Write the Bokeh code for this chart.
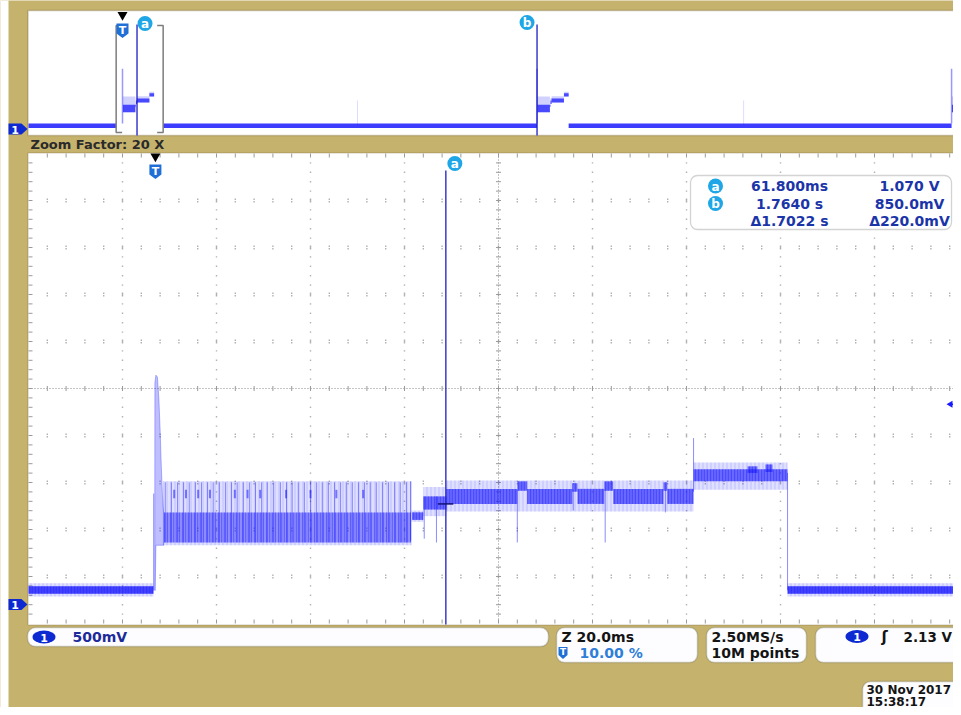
import numpy as np
from bokeh.plotting import figure
from bokeh.models import Range1d, BoxAnnotation
from bokeh.core.properties import value
from bokeh.embed import file_html
from bokeh.resources import INLINE

# ======================= data =======================
# scope settings
MAIN_MS_PER_DIV = 20.0        # zoom window 20.0 ms/div
VOLTS_PER_DIV = 0.5           # CH1 500 mV/div
RECORD_S_PER_DIV = 0.4        # 10M points @ 2.50 MS/s -> 4 s record
TRIGGER_POS = 0.10            # trigger position 10.00 %
MAIN_T_LEFT_MS = -27.0        # time at the left edge of the zoom window
TRIGGER_LEVEL_V = 2.13

# cursors
CUR_A_T_MS = 61.8
CUR_B_T_S = 1.764
CUR_A_V = 1.070
CUR_B_V = 0.850

# ---- zoom window (time in ms, voltage in V) ----
# outer (light) noise envelope
ENV_T0 = [-27.0, 1.6, 54.5, 57.0, 61.9, 114.5, 134.5]
ENV_T1 = [-0.4, 54.5, 57.0, 61.9, 114.5, 134.5, 173.0]
ENV_LO = [0.085, 0.63, 0.88, 0.94, 0.99, 1.22, 0.085]
ENV_HI = [0.225, 1.31, 1.00, 1.25, 1.32, 1.51, 0.225]
# dense core of the trace: baselines
BASE_T0 = [-27.0, 134.5]
BASE_T1 = [-0.4, 173.0]
BASE_LO = [0.115, 0.115]
BASE_HI = [0.195, 0.195]
# dense core: oscillating phase
OSC_T0 = [1.8]
OSC_T1 = [54.4]
OSC_LO = [0.66]
OSC_HI = [0.98]
# dense core: later steps and plateaus
CORE_T0 = [54.6, 57.0, 61.9, 77.0, 79.1, 88.7, 89.8, 95.5, 97.4, 108.1, 108.9, 114.5, 126.0, 129.8]
CORE_T1 = [57.0, 61.9, 77.0, 79.1, 88.7, 89.8, 95.5, 97.4, 108.1, 108.9, 114.5, 134.5, 128.1, 131.3]
CORE_LO = [0.90, 1.01, 1.07, 1.21, 1.07, 1.20, 1.07, 1.21, 1.07, 1.21, 1.07, 1.31, 1.40, 1.41]
CORE_HI = [0.98, 1.15, 1.23, 1.31, 1.23, 1.29, 1.23, 1.31, 1.23, 1.30, 1.23, 1.44, 1.47, 1.49]
# switching spikes during the oscillating phase
OSC_SPIKE_T = [2.1, 3.4, 4.7, 6.0, 7.2, 8.5, 9.8, 11.1, 12.3, 13.6, 14.9, 16.2, 17.4, 18.7,
               20.0, 21.3, 22.6, 23.8, 25.1, 26.6, 27.9, 29.1, 30.4, 31.7, 33.0, 34.3, 35.5,
               36.8, 38.1, 39.4, 40.6, 41.9, 43.2, 44.5, 45.7, 47.0, 48.3, 49.6, 50.9, 52.1, 53.4]
OSC_SPIKE_LOW = 0.66
OSC_SPIKE_HIGH = 1.30
# darker spike tops
DARK_TOP_T = [4.0, 6.5, 9.1, 11.6, 16.9, 19.6, 22.3, 27.8, 33.0, 38.5, 44.2]
DARK_TOP_LO = 1.13
DARK_TOP_HI = 1.22
# single glitches / edges
GLITCH_T = [-0.36, 54.3, 57.2, 59.8, 77.0, 88.9, 95.7, 108.5, 114.5, 134.5]
GLITCH_LO = [0.15, 0.68, 0.70, 0.66, 0.66, 1.00, 0.66, 0.98, 1.20, 0.15]
GLITCH_HI = [1.18, 1.31, 1.15, 1.15, 1.22, 1.22, 1.22, 1.22, 1.77, 1.40]
# turn-on overshoot right after the trigger
OVS_T = [-0.15, -0.11, 0.11, 0.43, 0.75, 1.01, 1.25, 1.50, 1.77, 1.77, 0.11, -0.04]
OVS_V = [0.15, 2.36, 2.44, 2.42, 2.18, 1.85, 1.48, 1.16, 0.95, 0.63, 0.63, 0.15]

# ---- full record overview (time in s, voltage in V) ----
OV_PULSE_START = [0.0, 1.764, 3.528]
OV_SEG_T0 = [0.0016, 0.0547, 0.0570, 0.0619, 0.1145]
OV_SEG_T1 = [0.0547, 0.0570, 0.0619, 0.1145, 0.1345]
OV_CORE_LO = [0.68, 0.90, 1.01, 1.07, 1.31]
OV_CORE_HI = [0.98, 0.98, 1.15, 1.23, 1.44]
OV_ENV_HI = [1.31, 1.00, 1.25, 1.32, 1.50]
OV_PEAK_V = 2.43
OV_BASE_T0 = [-0.400, 0.173, 1.8985]
OV_BASE_T1 = [-0.027, 1.764, 3.528]
OV_BASE_LO = 0.04
OV_BASE_HI = 0.22
OV_GLITCH_T = [1.000, 2.643]
OV_GLITCH_LO = 0.15
OV_GLITCH_HI = 1.15

# ======================= layout / styling =======================
W, H = 953, 707
GL = 28                 # graticule left edge (px)
DX = 94.0               # px per horizontal division
DYM = 47.0              # px per vertical division (zoom window)
DYO = 12.4              # px per vertical division (overview)
MAIN_TOP, MAIN_BOT = 153, 623
MAIN_GND = 604.0
OV_TOP, OV_BOT = 11, 135
OV_GND = 128.5

TAN = "#c5b26d"
BROWN = "#6b5b2c"
BLUE = "#1a1aff"
GRIDC = "#a3a3a3"
CURC = "#1c1cc4"
BADGE = "#1ea6e6"
TBLUE = "#1f6fd6"
CH1 = "#0d2ad2"
RTXT = "#1b35a8"
FONT = value("DejaVu Sans")

OV_LEFT_S = -TRIGGER_POS * 10 * RECORD_S_PER_DIV


def mx(t):
    return GL + (t - MAIN_T_LEFT_MS) / MAIN_MS_PER_DIV * DX


def ox(t):
    return GL + (t - OV_LEFT_S) / RECORD_S_PER_DIV * DX


def my(v):
    return MAIN_GND - v / VOLTS_PER_DIV * DYM


p = figure(width=W, height=H, x_range=Range1d(0, W), y_range=Range1d(H, 0),
           output_backend="svg", toolbar_location=None, x_axis_location=None,
           y_axis_location=None, min_border=0, background_fill_color=TAN,
           border_fill_color=TAN, outline_line_color=None)
p.xgrid.grid_line_color = None
p.ygrid.grid_line_color = None
p.extra_x_ranges = {
    "mt": Range1d(MAIN_T_LEFT_MS + (0 - GL) / DX * MAIN_MS_PER_DIV,
                  MAIN_T_LEFT_MS + (W - GL) / DX * MAIN_MS_PER_DIV),
    "ot": Range1d(OV_LEFT_S + (0 - GL) / DX * RECORD_S_PER_DIV,
                  OV_LEFT_S + (W - GL) / DX * RECORD_S_PER_DIV),
}
p.extra_y_ranges = {
    "mv": Range1d((MAIN_GND - H) / DYM * VOLTS_PER_DIV, MAIN_GND / DYM * VOLTS_PER_DIV),
    "ov": Range1d((OV_GND - H) / DYO * VOLTS_PER_DIV, OV_GND / DYO * VOLTS_PER_DIV),
}


def ubox(l, r, t, b, fill, line=None, lw=1.0, radius=0):
    p.add_layout(BoxAnnotation(left=l, right=r, top=t, bottom=b, fill_color=fill, fill_alpha=1.0,
                               line_color=line, line_width=lw, border_radius=radius,
                               level="underlay"))


# panels
ubox(-5, 8, -5, H + 5, "white")
ubox(GL - 0.5, W + 20, OV_TOP - 1, OV_BOT, "white", BROWN, 1.5)
ubox(GL - 0.5, W + 20, MAIN_TOP - 0.5, MAIN_BOT + 1.5, "white", BROWN, 1.2)
CBOX = (690, 951, 175, 229)
ubox(CBOX[0], CBOX[1], CBOX[2], CBOX[3], "white", "#6d6d6d", 1.3, 7)
# bottom readout boxes
ubox(27, 548, 627, 646, "#fdfdff", "#66664f", 1.5, 8)
ubox(556, 697, 627, 662, "#fdfdff", "#66664f", 1.5, 8)
ubox(706, 806, 627, 662, "#fdfdff", "#66664f", 1.5, 8)
ubox(815, 990, 627, 662, "#fdfdff", "#66664f", 1.5, 8)
ubox(862, 990, 681, 730, "#fdfdff", "#66664f", 1.5, 8)

# ---------------- graticule of the zoom window ----------------
def in_cbox(x, y):
    return CBOX[0] - 2 <= x <= CBOX[1] + 4 and CBOX[2] - 2 <= y <= CBOX[3] + 2

dx_, dy_ = [], []
for k in range(1, 11):
    if k == 5:
        continue
    x = GL + k * DX
    for j in range(1, 50):
        y = MAIN_TOP + j * DYM / 5
        if x < W and not in_cbox(x, y):
            dx_.append(x); dy_.append(y)
for j in range(1, 10):
    if j == 5:
        continue
    y = MAIN_TOP + j * DYM
    for i in range(1, 50):
        x = GL + i * DX / 5
        if x < W and not in_cbox(x, y):
            dx_ += [x, x]; dy_ += [y - 1.3, y + 1.3]
p.scatter(dx_, dy_, marker="square", size=1.4, fill_color=GRIDC, line_color=None, fill_alpha=0.85)

cx_c = GL + 5 * DX
cy_c = MAIN_TOP + 5 * DYM
p.segment(x0=[GL, cx_c], y0=[cy_c, MAIN_TOP], x1=[W, cx_c], y1=[cy_c, MAIN_BOT],
          line_color="#8a8a8a", line_width=1, line_dash="1 2")
tx0, ty0, tx1, ty1 = [], [], [], []
for i in range(1, 50):
    x = GL + i * DX / 5
    if x >= W:
        continue
    tx0 += [x, x, x]; tx1 += [x, x, x]
    ty0 += [cy_c - 2.5, MAIN_TOP, MAIN_BOT - 4]; ty1 += [cy_c + 2.5, MAIN_TOP + 4, MAIN_BOT]
for j in range(1, 50):
    y = MAIN_TOP + j * DYM / 5
    tx0 += [cx_c - 2.5, GL]; tx1 += [cx_c + 2.5, GL + 4]
    ty0 += [y, y]; ty1 += [y, y]
p.segment(x0=tx0, y0=ty0, x1=tx1, y1=ty1, line_color="#9a9a9a", line_width=1)

# ---------------- zoom-window waveform ----------------
MR = dict(x_range_name="mt", y_range_name="mv")
p.quad(left=ENV_T0, right=ENV_T1, bottom=ENV_LO, top=ENV_HI, fill_color=BLUE, fill_alpha=0.14,
       line_color=None, hatch_pattern="vertical_line", hatch_color=BLUE, hatch_alpha=0.18,
       hatch_scale=4, hatch_weight=1, **MR)
p.quad(left=BASE_T0, right=BASE_T1, bottom=BASE_LO, top=BASE_HI, fill_color=BLUE, fill_alpha=0.8,
       line_color=None, hatch_pattern="vertical_line", hatch_color=BLUE, hatch_alpha=0.3,
       hatch_scale=3, hatch_weight=1, **MR)
p.quad(left=OSC_T0, right=OSC_T1, bottom=OSC_LO, top=OSC_HI, fill_color=BLUE, fill_alpha=0.42,
       line_color=None, hatch_pattern="vertical_line", hatch_color=BLUE, hatch_alpha=0.35,
       hatch_scale=3, hatch_weight=1, **MR)
p.quad(left=CORE_T0, right=CORE_T1, bottom=CORE_LO, top=CORE_HI, fill_color=BLUE, fill_alpha=0.6,
       line_color=None, hatch_pattern="vertical_line", hatch_color=BLUE, hatch_alpha=0.35,
       hatch_scale=3, hatch_weight=1, **MR)
n = len(OSC_SPIKE_T)
p.segment(x0=OSC_SPIKE_T, x1=OSC_SPIKE_T, y0=[OSC_SPIKE_LOW] * n, y1=[OSC_SPIKE_HIGH] * n,
          line_color=BLUE, line_alpha=0.45, line_width=1, **MR)
n = len(DARK_TOP_T)
p.segment(x0=DARK_TOP_T, x1=DARK_TOP_T, y0=[DARK_TOP_LO] * n, y1=[DARK_TOP_HI] * n,
          line_color=BLUE, line_alpha=0.55, line_width=2, **MR)
p.segment(x0=GLITCH_T, x1=GLITCH_T, y0=GLITCH_LO, y1=GLITCH_HI, line_color=BLUE, line_alpha=0.5,
          line_width=1, **MR)
p.patch(OVS_T, OVS_V, fill_color=BLUE, fill_alpha=0.28, line_color=BLUE, line_alpha=0.3,
        line_width=1, **MR)

# ---------------- overview waveform ----------------
OR = dict(x_range_name="ot", y_range_name="ov")
nb = len(OV_BASE_T0)
p.quad(left=OV_BASE_T0, right=OV_BASE_T1, bottom=[OV_BASE_LO] * nb, top=[OV_BASE_HI] * nb,
       fill_color=BLUE, fill_alpha=0.85, line_color=None, **OR)
ol, orr, olo, ohi, oeh = [], [], [], [], []
for s in OV_PULSE_START:
    ol += [s + t for t in OV_SEG_T0]
    orr += [s + t for t in OV_SEG_T1]
    olo += OV_CORE_LO
    ohi += OV_CORE_HI
    oeh += OV_ENV_HI
p.quad(left=ol, right=orr, bottom=olo, top=oeh, fill_color=BLUE, fill_alpha=0.2, line_color=None, **OR)
p.quad(left=ol, right=orr, bottom=olo, top=ohi, fill_color=BLUE, fill_alpha=0.75, line_color=None, **OR)
npk = len(OV_PULSE_START)
p.segment(x0=OV_PULSE_START, x1=OV_PULSE_START, y0=[OV_BASE_HI] * npk, y1=[OV_PEAK_V] * npk,
          line_color=BLUE, line_alpha=0.45, line_width=1.5, **OR)
ng = len(OV_GLITCH_T)
p.segment(x0=OV_GLITCH_T, x1=OV_GLITCH_T, y0=[OV_GLITCH_LO] * ng, y1=[OV_GLITCH_HI] * ng,
          line_color=BLUE, line_alpha=0.15, line_width=1, **OR)

# zoom bracket in overview
zl = ox(MAIN_T_LEFT_MS / 1000)
zr = ox((MAIN_T_LEFT_MS + 10 * MAIN_MS_PER_DIV) / 1000)
p.multi_line(xs=[[zl + 6, zl, zl, zl + 6], [zr - 6, zr, zr, zr - 6]],
             ys=[[25, 25, 132, 132], [25, 25, 132, 132]], line_color="#7d7d7d", line_width=1.5)

# ---------------- cursors ----------------
p.segment(x0=[CUR_A_T_MS], x1=[CUR_A_T_MS], y0=[170], y1=[MAIN_BOT + 1], x_range_name="mt",
          line_color=CURC, line_width=1.3)
p.segment(x0=[CUR_A_T_MS / 1000, CUR_B_T_S], x1=[CUR_A_T_MS / 1000, CUR_B_T_S], y0=[24, 24],
          y1=[OV_BOT, OV_BOT], x_range_name="ot", line_color=CURC, line_width=1.3)
p.segment(x0=[CUR_A_T_MS - 1.7], x1=[CUR_A_T_MS + 1.6], y0=[CUR_A_V], y1=[CUR_A_V],
          line_color="#121270", line_width=1.5, **MR)

bx = [mx(CUR_A_T_MS) + 9, ox(CUR_A_T_MS / 1000) + 8, ox(CUR_B_T_S) - 10, 715, 715]
by = [163, 23, 22, 185.5, 203]
bt = ["a", "a", "b", "a", "b"]
p.scatter(bx, by, marker="circle", size=15, fill_color=BADGE, line_color=None)
p.text(bx, [y + 0.5 for y in by], text=bt, text_color="white", text_font=FONT, text_font_size="12px",
       text_font_style="bold", text_align="center", text_baseline="middle")

# trigger markers
trig = [mx(0.0), ox(0.0)]
tyc = [171, 30]
p.scatter(trig, [156, 14.5], marker="inverted_triangle", size=10, fill_color="black", line_color=None)
p.patches(xs=[[x - 6, x + 6, x + 6, x, x - 6] for x in trig],
          ys=[[y - 7, y - 7, y + 3, y + 7.5, y + 3] for y in tyc], fill_color=TBLUE, line_color=None)
p.text(trig, [y - 0.5 for y in tyc], text=["T", "T"], text_color="white", text_font=FONT,
       text_font_size="11px", text_font_style="bold", text_align="center", text_baseline="middle")

# channel ground markers
for g in [MAIN_GND, OV_GND]:
    p.patch([8, 21, 27, 21, 8], [g - 5.5, g - 5.5, g, g + 5.5, g + 5.5], fill_color=CH1, line_color=None)
p.text([14.5, 14.5], [MAIN_GND + 0.5, OV_GND + 0.5], text=["1", "1"], text_color="white", text_font=FONT,
       text_font_size="11px", text_font_style="bold", text_align="center", text_baseline="middle")

# trigger level arrow at right edge
tl = my(TRIGGER_LEVEL_V)
p.patch([946, 952, 952], [tl, tl - 3.5, tl + 3.5], fill_color=BLUE, line_color=None)
p.segment(x0=[948], x1=[W], y0=[tl], y1=[tl], line_color=BLUE, line_width=1.5)

# ---------------- texts ----------------
zoom = int(round(10 * RECORD_S_PER_DIV * 1000 / (10 * MAIN_MS_PER_DIV)))
p.text([30], [143.5], text=[f"Zoom Factor: {zoom} X"], text_color="#2a2a2a", text_font=FONT,
       text_font_size="13px", text_font_style="bold", text_baseline="middle")

dt = CUR_B_T_S - CUR_A_T_MS / 1000
dv = (CUR_A_V - CUR_B_V) * 1000
col1 = [f"{CUR_A_T_MS:.3f}ms", f"{CUR_B_T_S:.4f} s", f"\u0394{dt:.4f} s"]
col2 = [f"{CUR_A_V:.3f} V", f"{CUR_B_V * 1000:.1f}mV", f"\u0394{dv:.1f}mV"]
rows = [185.5, 203, 220.5]
p.text([789] * 3, rows, text=col1, text_color=RTXT, text_font=FONT, text_font_size="14px",
       text_font_style="bold", text_align="center", text_baseline="middle")
p.text([909] * 3, rows, text=col2, text_color=RTXT, text_font=FONT, text_font_size="14px",
       text_font_style="bold", text_align="center", text_baseline="middle")

# bottom readouts
p.ellipse([43.5, 856.5], [636.5, 636], width=23, height=13, width_units="screen", height_units="screen",
          fill_color=CH1, line_color=None)
p.text([43.5, 856.5], [637, 636.5], text=["1", "1"], text_color="white", text_font=FONT,
       text_font_size="11px", text_font_style="bold", text_align="center", text_baseline="middle")
p.text([72], [636.5], text=[f"{int(VOLTS_PER_DIV * 1000)}mV"], text_color="#1d2b9a", text_font=FONT,
       text_font_size="14px", text_font_style="bold", text_baseline="middle")
p.patch([558, 567, 567, 562.5, 558], [646.5, 646.5, 654.5, 658.5, 654.5], fill_color=TBLUE, line_color=None)
p.text([562.5], [651.5], text=["T"], text_color="white", text_font=FONT, text_font_size="9px",
       text_font_style="bold", text_align="center", text_baseline="middle")
p.text([561, 711], [636, 636],
       text=[f"Z {MAIN_MS_PER_DIV:.1f}ms", "2.50MS/s"],
       text_color="#141414", text_font=FONT, text_font_size="14px", text_font_style="bold",
       text_baseline="middle")
p.text([903], [636], text=[f"{TRIGGER_LEVEL_V:.2f} V"], text_color="#141414", text_font=FONT,
       text_font_size="13.5px", text_font_style="bold", text_baseline="middle")
p.text([579], [652.5], text=[f"{TRIGGER_POS * 100:.2f} %"], text_color="#2f7fd8", text_font=FONT,
       text_font_size="14px", text_font_style="bold", text_baseline="middle")
p.text([711], [652.5], text=["10M points"], text_color="#141414", text_font=FONT,
       text_font_size="14px", text_font_style="bold", text_baseline="middle")
p.text([884], [636.5], text=["\u0283"], text_color="#141414", text_font=FONT,
       text_font_size="15px", text_font_style="bold", text_align="center", text_baseline="middle")
p.text([866, 866], [689.5, 701], text=["30 Nov 2017", "15:38:17"], text_color="#141414", text_font=FONT,
       text_font_size="12px", text_font_style="bold", text_baseline="middle")

open("out.html", "w").write(file_html(p, INLINE))
